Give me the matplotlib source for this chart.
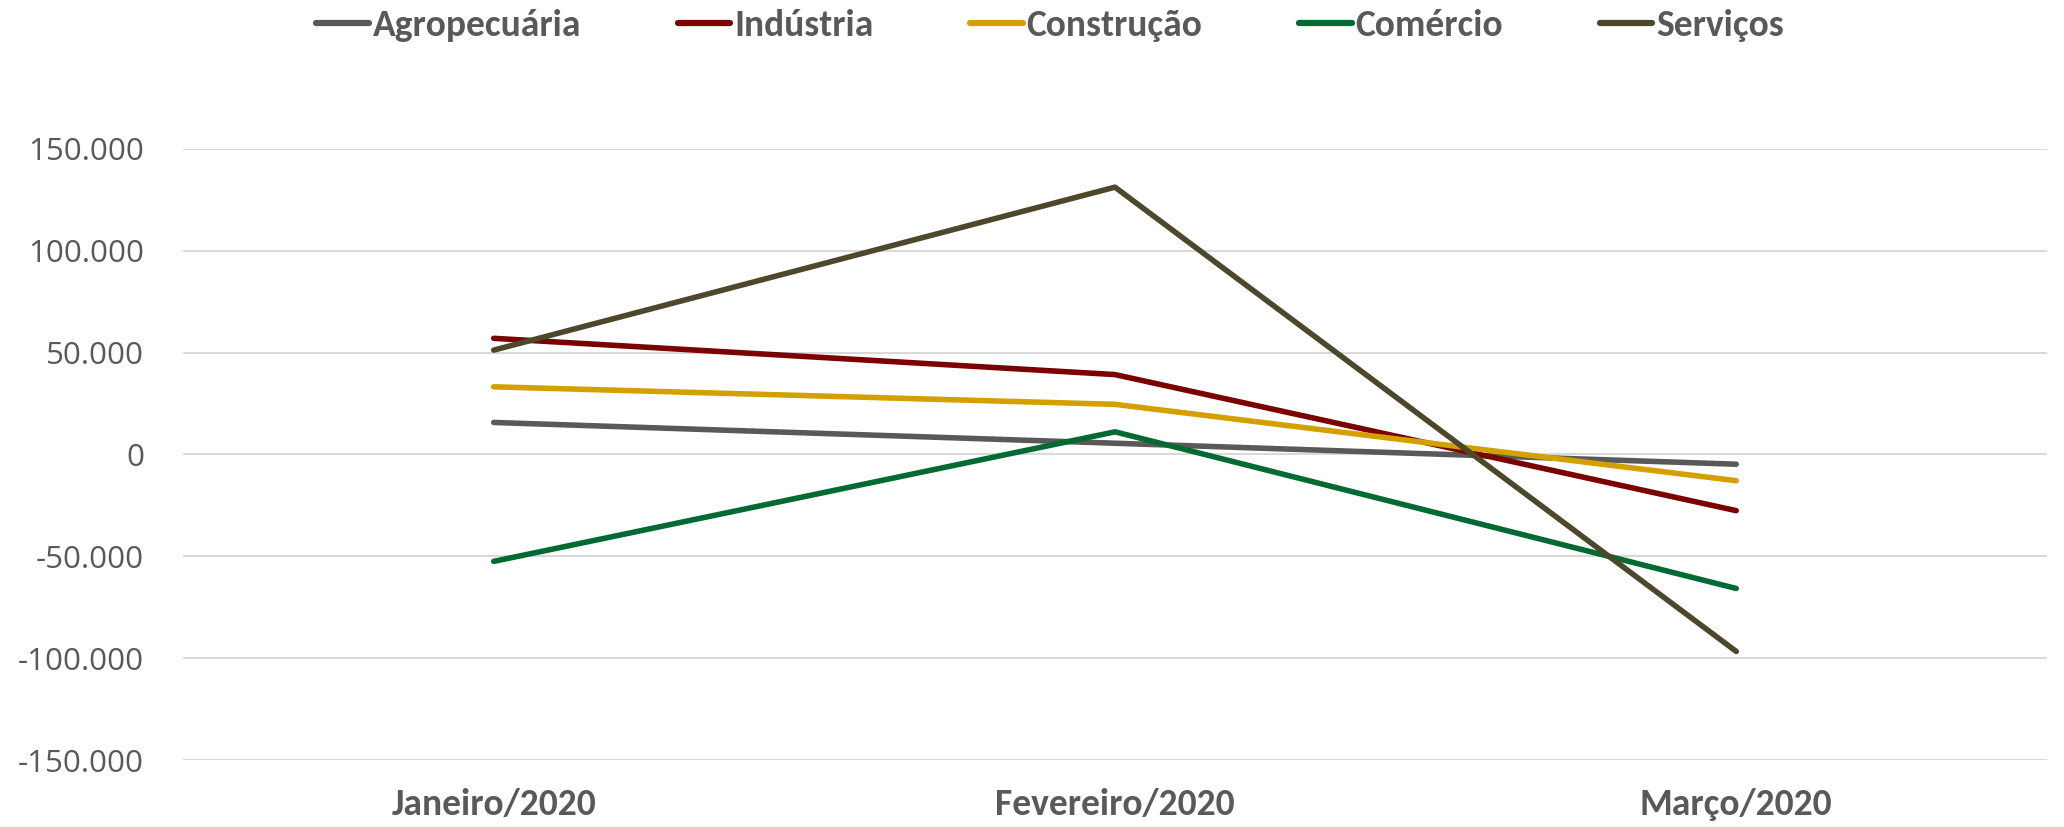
import numpy as np
import matplotlib
matplotlib.use("Agg")
import matplotlib.pyplot as plt
from matplotlib.ticker import FuncFormatter, MultipleLocator

meses = ["Janeiro/2020", "Fevereiro/2020", "Março/2020"]
agropecuaria = [15700, 5500, -4800]
industria = [57000, 39200, -27600]
construcao = [33200, 24600, -12900]
comercio = [-52500, 11100, -65800]
servicos = [51200, 131200, -96700]

series = [
    ("Agropecuária", agropecuaria, "#595959"),
    ("Indústria", industria, "#7B0000"),
    ("Construção", construcao, "#D4A000"),
    ("Comércio", comercio, "#006A32"),
    ("Serviços", servicos, "#4D472C"),
]

cor_texto = "#595959"
fonte_negrito = ["Carlito", "Lato", "DejaVu Sans"]

fig = plt.figure(figsize=(20.64, 8.27), dpi=100)
ax = fig.add_axes([0.0887, 0.081, 0.903, 0.739])

x = np.arange(len(meses))
for nome, valores, cor in series:
    ax.plot(x, valores, color=cor, lw=4, label=nome, solid_capstyle="round")

ax.set_xlim(-0.5, len(meses) - 0.5)
ax.set_ylim(-150000, 150000)
ax.yaxis.set_major_locator(MultipleLocator(50000))

def fmt(v, pos):
    if v == 0:
        return "0"
    return f"{int(v):,}".replace(",", ".")

ax.yaxis.set_major_formatter(FuncFormatter(fmt))
ax.grid(axis="y", color="#D9D9D9", lw=1.5)
ax.set_axisbelow(True)
for s in ax.spines.values():
    s.set_visible(False)

ax.set_xticks(x)
ax.set_xticklabels(meses, family=fonte_negrito, fontweight="bold", fontsize=27, color=cor_texto)
ax.tick_params(axis="x", length=0, pad=20)
ax.tick_params(axis="y", length=0, pad=28, labelsize=22.5, labelcolor=cor_texto)
for lbl in ax.get_yticklabels():
    lbl.set_family(["Open Sans", "DejaVu Sans"])

leg = fig.legend(loc="upper center", bbox_to_anchor=(0.5087, 1.03), ncol=5, frameon=False,
                 handlelength=1.4, handletextpad=0.1, columnspacing=2.58,
                 prop={"family": fonte_negrito, "weight": "bold", "size": 27})
for t in leg.get_texts():
    t.set_color(cor_texto)
for h in leg.get_lines():
    h.set_linewidth(4.5)

fig.savefig("out.png", dpi=100)
